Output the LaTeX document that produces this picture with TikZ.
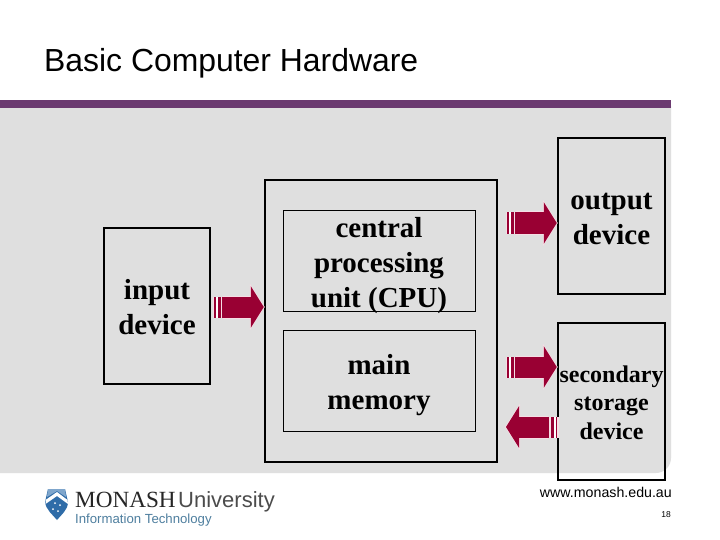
\documentclass[tikz,border=0pt]{standalone}
\usepackage{fontspec}
\setmainfont{Liberation Serif}
\newfontfamily\arialfont{Liberation Sans}
\usetikzlibrary{arrows.meta,calc}
\definecolor{bggray}{HTML}{DFDFDF}
\definecolor{bandpurple}{HTML}{6B3A70}
\definecolor{arrowred}{HTML}{990033}
\definecolor{halo}{HTML}{F6DDE4}
\definecolor{shieldblue}{HTML}{2F6CA8}
\definecolor{shieldlight}{HTML}{7FA6CC}
\definecolor{itblue}{HTML}{4F7F9F}
\newcommand{\dnrule}{\rule{0pt}{30pt}}
\tikzset{
  bigbox/.style={draw=black,line width=2.4pt,inner sep=0pt,align=center},
  innerbox/.style={draw=black,line width=0.8pt,inner xsep=0pt,inner ysep=-6pt,align=center},
  devtext/.style={font=\bfseries\fontsize{29}{35}\selectfont},
  sectext/.style={font=\bfseries\fontsize{24}{28.5}\selectfont},
  blockhalo/.style={draw=halo,line width=23pt,-{Triangle[length=15pt,width=46pt]},shorten >=-1pt},
  blockbody/.style={draw=arrowred,line width=21pt,-{Triangle[length=13pt,width=41pt]}},
  stripe/.style={draw=arrowred,line width=21pt}
}
% #1 tail coordinate, #2 tip, #3 direction sign
\newcommand{\blockarrow}[3]{%
  \draw[blockhalo] ($(#1)+(#3*1,0)$) -- (#2);
  \draw[draw=bggray,line width=23pt] ($(#1)+(#3*-1,0)$) -- ++(#3*2.2,0);
  \draw[blockbody] (#1) -- (#2);
  \draw[draw=halo,line width=21pt] ($(#1)+(#3*-1.5,0)$) -- ++(#3*1.5,0);
  \draw[stripe] ($(#1)+(#3*-4.5,0)$) -- ++(#3*3,0);
  \draw[draw=white,line width=21pt] ($(#1)+(#3*-6.5,0)$) -- ++(#3*2,0);
  \draw[stripe] ($(#1)+(#3*-8,0)$) -- ++(#3*1.5,0);
  \draw[draw=halo,line width=21pt] ($(#1)+(#3*-9.5,0)$) -- ++(#3*1.5,0);
}
\begin{document}
\begin{tikzpicture}[x=1pt,y=-1pt]
\useasboundingbox (0,0) rectangle (720,540);
\fill[white] (0,0) rectangle (720,540);
% background and band
\fill[bggray] (0,106) -- (671,106) -- (671,458) arc[start angle=0,end angle=90,x radius=15pt,y radius=-15pt] -- (0,473) -- cycle;
\fill[bandpurple] (0,100) rectangle (671,108);
% title
\node[anchor=base west,inner sep=0pt,font=\arialfont\fontsize{31.9}{36}\selectfont] (title) at (44,72) {Basic Computer Hardware};
% boxes
\node[bigbox,devtext,minimum width=106pt,minimum height=156pt] (input) at (157,306) {\rule{0pt}{23pt}input\\device};
\node[bigbox,minimum width=232pt,minimum height=282pt] (computer) at (381,321) {};
\node[innerbox,devtext,minimum width=192pt,minimum height=101pt] (cpu) at (379,260.5) {\dnrule central\\processing\\unit (CPU)};
\node[innerbox,devtext,minimum width=192pt,minimum height=101pt] (memory) at (379,380.5) {\dnrule main\\memory};
\node[bigbox,devtext,minimum width=107pt,minimum height=156pt] (output) at (611.5,216) {\rule{0pt}{22pt}output\\device};
\node[bigbox,sectext,minimum width=107pt,minimum height=157pt] (secondary) at (611.5,401.5) {\rule{0pt}{19pt}secondary\\storage\\device};
% connectors
\coordinate (a1) at (222,307);
\coordinate (a2) at (515,223);
\coordinate (a3) at (515,367);
\coordinate (a4) at (549,427);
\blockarrow{a1}{computer.west |- a1}{1}
\blockarrow{a2}{output.west |- a2}{1}
\blockarrow{a3}{secondary.west |- a3}{1}
\coordinate (a4tip) at (506,427);
\blockarrow{a4}{a4tip}{-1}
% footer
\node[anchor=base east,inner sep=0pt,font=\arialfont\fontsize{14.2}{16}\selectfont] (web) at (672,497) {www.monash.edu.au};
\node[anchor=base east,inner sep=0pt,font=\arialfont\fontsize{8.5}{10}\selectfont] (page) at (671,517) {18};
% logo
\fill[shieldblue] (48,489) -- (65,489) -- (68,502) .. controls (68,510) and (61,515) .. (57,520) .. controls (53,515) and (46,510) .. (45,502) -- cycle;
\fill[shieldlight] (48,489) -- (65,489) -- (66,497) -- (57,491) -- (47,497) -- cycle;
\fill[white] (45.5,500) -- (57,492) -- (67.5,500) -- (68,504) -- (57,496) -- (45.5,504) -- cycle;
\fill[white] (55,503) circle (1pt) (60,505) circle (1pt) (53,509) circle (1pt) (58,511) circle (1pt);
\node[anchor=base west,inner sep=0pt,text=black!85,font=\fontsize{23.2}{26}\selectfont] (mon) at (75,507) {MONASH};
\node[anchor=base east,inner sep=0pt,text=black!70,font=\arialfont\fontsize{22}{26}\selectfont] (uni) at (275,507) {University};
\node[anchor=base west,inner sep=0pt,text=itblue,font=\arialfont\fontsize{13.2}{16}\selectfont] (it) at (75,523) {Information Technology};
\end{tikzpicture}
\end{document}
